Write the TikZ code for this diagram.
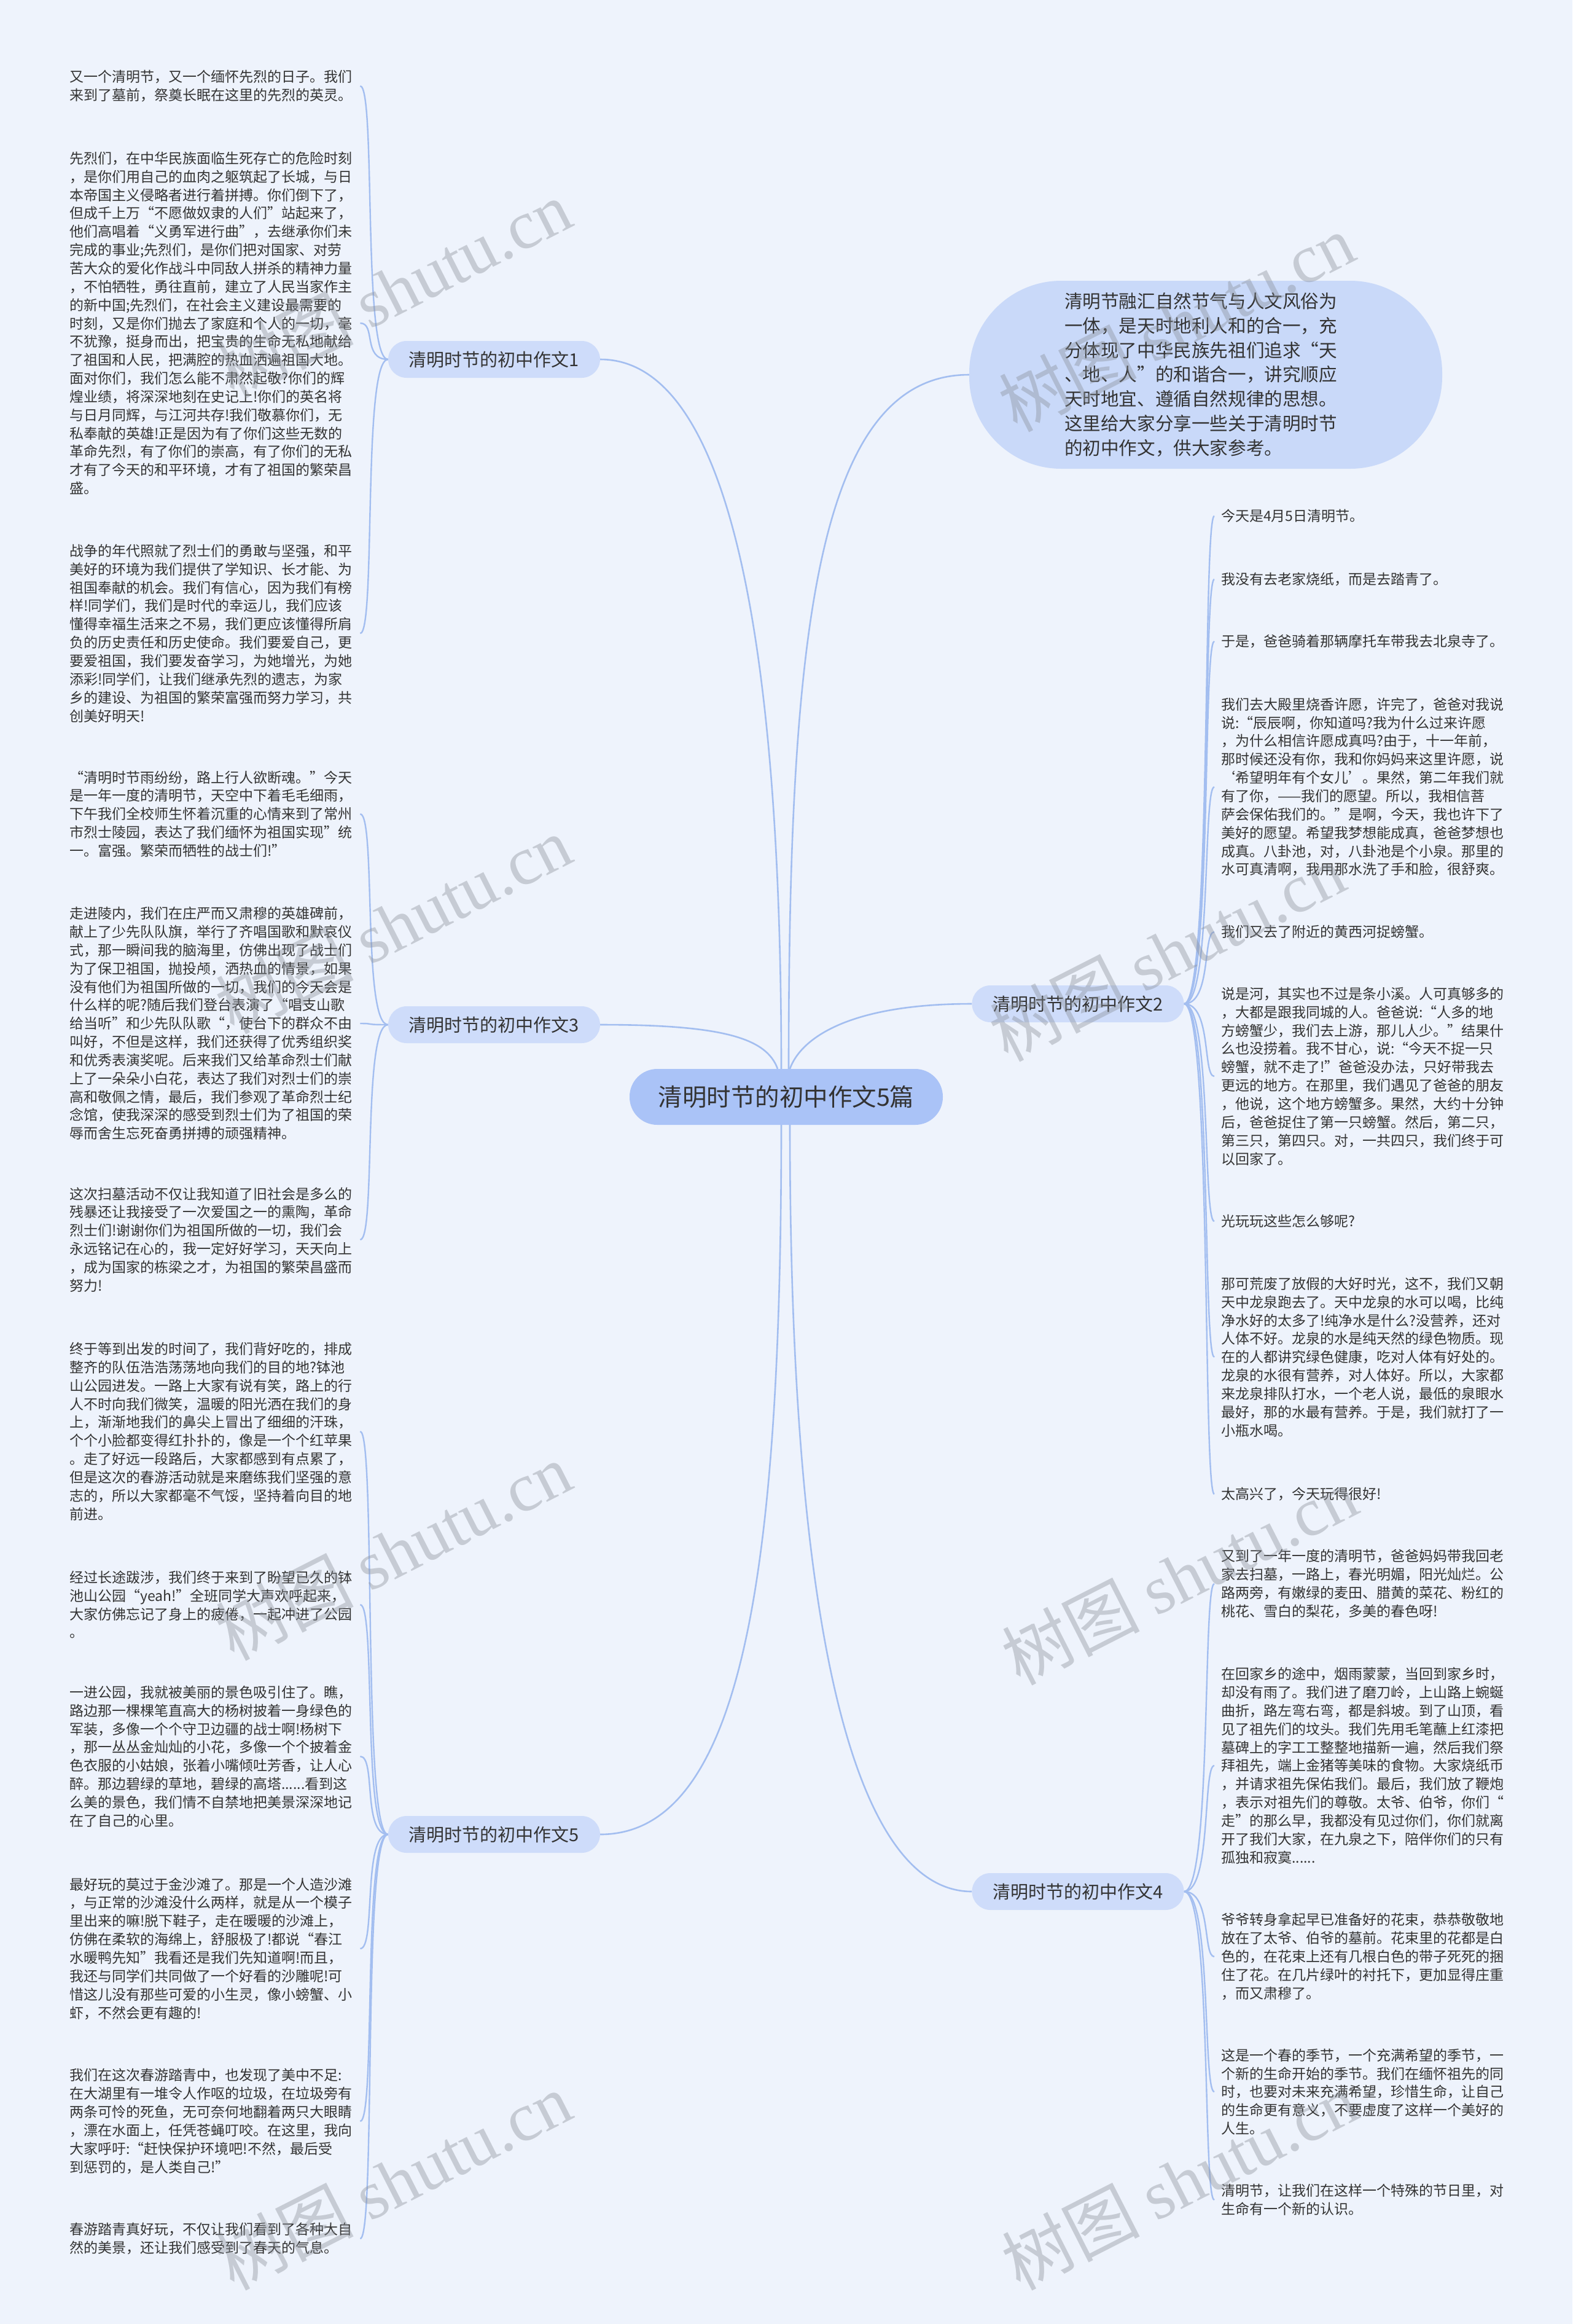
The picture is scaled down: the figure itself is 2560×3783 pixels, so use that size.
\documentclass[tikz,border=0pt]{standalone}
\usepackage{fontspec}
\setmainfont{Noto Sans CJK SC}
\newfontfamily\wmserif{Liberation Serif}
\definecolor{bgc}{HTML}{EEF3FC}
\definecolor{txt}{HTML}{333333}
\definecolor{ctfill}{HTML}{AAC3F7}
\definecolor{brfill}{HTML}{CEDCFA}
\definecolor{bubfill}{HTML}{C9D9F9}
\definecolor{lineblue}{HTML}{A3BEF0}
\definecolor{wmgray}{HTML}{8A9099}
\pgfdeclarelayer{back}
\pgfdeclarelayer{links}
\pgfdeclarelayer{front}
\pgfsetlayers{back,links,main,front}
\begin{document}
\begin{tikzpicture}[x=1pt,y=-1pt,
  leaf/.style={anchor=west, text width=462pt, align=left, inner xsep=11pt, inner ysep=0pt,
    font=\fontsize{23}{29.85}\selectfont, text=txt},
  branch/.style={fill=brfill, rounded corners=30pt, minimum width=345pt, minimum height=60pt,
    inner sep=0pt, font=\fontsize{29}{35}\selectfont, text=txt},
  centre/.style={fill=ctfill, rounded corners=45pt, minimum width=510pt, minimum height=91pt,
    inner sep=0pt, font=\fontsize{39.5}{45}\selectfont, text=txt},
  bubble/.style={fill=bubfill, rounded corners=150pt, minimum width=770pt, minimum height=306pt,
    inner sep=0pt, text width=460pt, align=left, font=\fontsize{29.6}{39.7}\selectfont, text=txt},
  mainline/.style={draw=lineblue, line width=2.6pt},
  leafline/.style={draw=lineblue, line width=2.4pt},
  wm/.style={rotate=27, text=wmgray, text opacity=0.4, inner sep=0pt,
    font=\fontsize{112}{112}\selectfont}
]
\useasboundingbox (0,0) rectangle (2560,3783);
\begin{pgfonlayer}{back}
  \fill[bgc] (0,0) rectangle (2560,3783);
\end{pgfonlayer}

% centre and branches
\node[centre] (c) at (1280,1785.5) {清明时节的初中作文5篇};
\node[branch] (n1) at (804.5,585) {清明时节的初中作文1};
\node[branch] (n3) at (804.5,1668) {清明时节的初中作文3};
\node[branch] (n5) at (804.5,2986) {清明时节的初中作文5};
\node[branch] (n2) at (1755,1634) {清明时节的初中作文2};
\node[branch] (n4) at (1755,3079) {清明时节的初中作文4};
\node[bubble] (bub) at (1963,610) {清明节融汇自然节气与人文风俗为\\一体，是天时地利人和的合一，充\\分体现了中华民族先祖们追求“天\\、地、人”的和谐合一，讲究顺应\\天时地宜、遵循自然规律的思想。\\这里给大家分享一些关于清明时节\\的初中作文，供大家参考。};

% left leaves
\node[leaf] (p1a) at (102,140) {又一个清明节，又一个缅怀先烈的日子。我们\\来到了墓前，祭奠长眠在这里的先烈的英灵。};
\node[leaf] (p1b) at (102,526) {先烈们，在中华民族面临生死存亡的危险时刻\\，是你们用自己的血肉之躯筑起了长城，与日\\本帝国主义侵略者进行着拼搏。你们倒下了，\\但成千上万“不愿做奴隶的人们”站起来了，\\他们高唱着“义勇军进行曲”，去继承你们未\\完成的事业;先烈们，是你们把对国家、对劳\\苦大众的爱化作战斗中同敌人拼杀的精神力量\\，不怕牺牲，勇往直前，建立了人民当家作主\\的新中国;先烈们，在社会主义建设最需要的\\时刻，又是你们抛去了家庭和个人的一切，毫\\不犹豫，挺身而出，把宝贵的生命无私地献给\\了祖国和人民，把满腔的热血洒遍祖国大地。\\面对你们，我们怎么能不肃然起敬?你们的辉\\煌业绩，将深深地刻在史记上!你们的英名将\\与日月同辉，与江河共存!我们敬慕你们，无\\私奉献的英雄!正是因为有了你们这些无数的\\革命先烈，有了你们的崇高，有了你们的无私\\才有了今天的和平环境，才有了祖国的繁荣昌\\盛。};
\node[leaf] (p1c) at (102,1031) {战争的年代照就了烈士们的勇敢与坚强，和平\\美好的环境为我们提供了学知识、长才能、为\\祖国奉献的机会。我们有信心，因为我们有榜\\样!同学们，我们是时代的幸运儿，我们应该\\懂得幸福生活来之不易，我们更应该懂得所肩\\负的历史责任和历史使命。我们要爱自己，更\\要爱祖国，我们要发奋学习，为她增光，为她\\添彩!同学们，让我们继承先烈的遗志，为家\\乡的建设、为祖国的繁荣富强而努力学习，共\\创美好明天!};
\node[leaf] (p3a) at (102,1325) {“清明时节雨纷纷，路上行人欲断魂。"今天\\是一年一度的清明节，天空中下着毛毛细雨，\\下午我们全校师生怀着沉重的心情来到了常州\\市烈士陵园，表达了我们缅怀为祖国实现”统\\一。富强。繁荣而牺牲的战士们!”};
\node[leaf] (p3b) at (102,1666) {走进陵内，我们在庄严而又肃穆的英雄碑前，\\献上了少先队队旗，举行了齐唱国歌和默哀仪\\式，那一瞬间我的脑海里，仿佛出现了战士们\\为了保卫祖国，抛投颅，洒热血的情景，如果\\没有他们为祖国所做的一切，我们的今天会是\\什么样的呢?随后我们登台表演了“唱支山歌\\给当听”和少先队队歌“，使台下的群众不由\\叫好，不但是这样，我们还获得了优秀组织奖\\和优秀表演奖呢。后来我们又给革命烈士们献\\上了一朵朵小白花，表达了我们对烈士们的崇\\高和敬佩之情，最后，我们参观了革命烈士纪\\念馆，使我深深的感受到烈士们为了祖国的荣\\辱而舍生忘死奋勇拼搏的顽强精神。};
\node[leaf] (p3c) at (102,2018) {这次扫墓活动不仅让我知道了旧社会是多么的\\残暴还让我接受了一次爱国之一的熏陶，革命\\烈士们!谢谢你们为祖国所做的一切，我们会\\永远铭记在心的，我一定好好学习，天天向上\\，成为国家的栋梁之才，为祖国的繁荣昌盛而\\努力!};
\node[leaf] (p5a) at (102,2330) {终于等到出发的时间了，我们背好吃的，排成\\整齐的队伍浩浩荡荡地向我们的目的地?钵池\\山公园进发。一路上大家有说有笑，路上的行\\人不时向我们微笑，温暖的阳光洒在我们的身\\上，渐渐地我们的鼻尖上冒出了细细的汗珠，\\个个小脸都变得红扑扑的，像是一个个红苹果\\。走了好远一段路后，大家都感到有点累了，\\但是这次的春游活动就是来磨练我们坚强的意\\志的，所以大家都毫不气馁，坚持着向目的地\\前进。};
\node[leaf] (p5b) at (102,2612) {经过长途跋涉，我们终于来到了盼望已久的钵\\池山公园“yeah!”全班同学大声欢呼起来，\\大家仿佛忘记了身上的疲倦，一起冲进了公园\\。};
\node[leaf] (p5c) at (102,2859) {一进公园，我就被美丽的景色吸引住了。瞧，\\路边那一棵棵笔直高大的杨树披着一身绿色的\\军装，多像一个个守卫边疆的战士啊!杨树下\\，那一丛丛金灿灿的小花，多像一个个披着金\\色衣服的小姑娘，张着小嘴倾吐芳香，让人心\\醉。那边碧绿的草地，碧绿的高塔......看到这\\么美的景色，我们情不自禁地把美景深深地记\\在了自己的心里。};
\node[leaf] (p5d) at (102,3172) {最好玩的莫过于金沙滩了。那是一个人造沙滩\\，与正常的沙滩没什么两样，就是从一个模子\\里出来的嘛!脱下鞋子，走在暖暖的沙滩上，\\仿佛在柔软的海绵上，舒服极了!都说“春江\\水暖鸭先知”我看还是我们先知道啊!而且，\\我还与同学们共同做了一个好看的沙雕呢!可\\惜这儿没有那些可爱的小生灵，像小螃蟹、小\\虾，不然会更有趣的!};
\node[leaf] (p5e) at (102,3453) {我们在这次春游踏青中，也发现了美中不足:\\在大湖里有一堆令人作呕的垃圾，在垃圾旁有\\两条可怜的死鱼，无可奈何地翻着两只大眼睛\\，漂在水面上，任凭苍蝇叮咬。在这里，我向\\大家呼吁:“赶快保护环境吧!不然，最后受\\到惩罚的，是人类自己!”};
\node[leaf] (p5f) at (102,3644) {春游踏青真好玩，不仅让我们看到了各种大自\\然的美景，还让我们感受到了春天的气息。};

% right leaves
\node[leaf] (r2a) at (1977,840) {今天是4月5日清明节。};
\node[leaf] (r2b) at (1977,943) {我没有去老家烧纸，而是去踏青了。};
\node[leaf] (r2c) at (1977,1044) {于是，爸爸骑着那辆摩托车带我去北泉寺了。};
\node[leaf] (r2d) at (1977,1281) {我们去大殿里烧香许愿，许完了，爸爸对我说\\说:“辰辰啊，你知道吗?我为什么过来许愿\\，为什么相信许愿成真吗?由于，十一年前，\\那时候还没有你，我和你妈妈来这里许愿，说\\‘希望明年有个女儿’。果然，第二年我们就\\有了你，——我们的愿望。所以，我相信菩\\萨会保佑我们的。”是啊，今天，我也许下了\\美好的愿望。希望我梦想能成真，爸爸梦想也\\成真。八卦池，对，八卦池是个小泉。那里的\\水可真清啊，我用那水洗了手和脸，很舒爽。};
\node[leaf] (r2e) at (1977,1517) {我们又去了附近的黄西河捉螃蟹。};
\node[leaf] (r2f) at (1977,1752) {说是河，其实也不过是条小溪。人可真够多的\\，大都是跟我同城的人。爸爸说:“人多的地\\方螃蟹少，我们去上游，那儿人少。”结果什\\么也没捞着。我不甘心，说:“今天不捉一只\\螃蟹，就不走了!”爸爸没办法，只好带我去\\更远的地方。在那里，我们遇见了爸爸的朋友\\，他说，这个地方螃蟹多。果然，大约十分钟\\后，爸爸捉住了第一只螃蟹。然后，第二只，\\第三只，第四只。对，一共四只，我们终于可\\以回家了。};
\node[leaf] (r2g) at (1977,1988) {光玩玩这些怎么够呢?};
\node[leaf] (r2h) at (1977,2209) {那可荒废了放假的大好时光，这不，我们又朝\\天中龙泉跑去了。天中龙泉的水可以喝，比纯\\净水好的太多了!纯净水是什么?没营养，还对\\人体不好。龙泉的水是纯天然的绿色物质。现\\在的人都讲究绿色健康，吃对人体有好处的。\\龙泉的水很有营养，对人体好。所以，大家都\\来龙泉排队打水，一个老人说，最低的泉眼水\\最好，那的水最有营养。于是，我们就打了一\\小瓶水喝。};
\node[leaf] (r2i) at (1977,2432) {太高兴了，今天玩得很好!};
\node[leaf] (r4a) at (1977,2578) {又到了一年一度的清明节，爸爸妈妈带我回老\\家去扫墓，一路上，春光明媚，阳光灿烂。公\\路两旁，有嫩绿的麦田、腊黄的菜花、粉红的\\桃花、雪白的梨花，多美的春色呀!};
\node[leaf] (r4b) at (1977,2874) {在回家乡的途中，烟雨蒙蒙，当回到家乡时，\\却没有雨了。我们进了磨刀岭，上山路上蜿蜒\\曲折，路左弯右弯，都是斜坡。到了山顶，看\\见了祖先们的坟头。我们先用毛笔蘸上红漆把\\墓碑上的字工工整整地描新一遍，然后我们祭\\拜祖先，端上金猪等美味的食物。大家烧纸币\\，并请求祖先保佑我们。最后，我们放了鞭炮\\，表示对祖先们的尊敬。太爷、伯爷，你们“\\走”的那么早，我都没有见过你们，你们就离\\开了我们大家，在九泉之下，陪伴你们的只有\\孤独和寂寞......};
\node[leaf] (r4c) at (1977,3185) {爷爷转身拿起早已准备好的花束，恭恭敬敬地\\放在了太爷、伯爷的墓前。花束里的花都是白\\色的，在花束上还有几根白色的带子死死的捆\\住了花。在几片绿叶的衬托下，更加显得庄重\\，而又肃穆了。};
\node[leaf] (r4d) at (1977,3405) {这是一个春的季节，一个充满希望的季节，一\\个新的生命开始的季节。我们在缅怀祖先的同\\时，也要对未来充满希望，珍惜生命，让自己\\的生命更有意义，不要虚度了这样一个美好的\\人生。};
\node[leaf] (r4e) at (1977,3581) {清明节，让我们在这样一个特殊的节日里，对\\生命有一个新的认识。};

% connectors
\begin{pgfonlayer}{links}
  \draw[mainline] ([xshift=-8pt]c.north) .. controls +(0,-640) and +(223,0) .. (n1.east);
  \draw[mainline] ([xshift=-14pt]c.north) .. controls +(-18,-50) and +(200,0) .. (n3.east);
  \draw[mainline] ([xshift=-8pt]c.south) .. controls +(0,720) and +(233,0) .. (n5.east);
  \draw[mainline] ([xshift=4pt]c.north) .. controls +(0,-700) and +(-250,0) .. (bub.west);
  \draw[mainline] ([xshift=6pt]c.north) .. controls +(18,-50) and +(-200,0) .. (n2.west);
  \draw[mainline] ([xshift=6pt]c.south) .. controls +(0,870) and +(-180,0) .. (n4.west);
  \foreach \p in {p1a,p1b,p1c}
    \draw[leafline] (n1.west) .. controls +(-42,0) and +(26,0) .. (\p.east);
  \foreach \p in {p3a,p3b,p3c}
    \draw[leafline] (n3.west) .. controls +(-42,0) and +(26,0) .. (\p.east);
  \foreach \p in {p5a,p5b,p5c,p5d,p5e,p5f}
    \draw[leafline] (n5.west) .. controls +(-42,0) and +(26,0) .. (\p.east);
  \foreach \p in {r2a,r2b,r2c,r2d,r2e,r2f,r2g,r2h,r2i}
    \draw[leafline] (n2.east) .. controls +(45,0) and +(-19,0) .. (\p.west);
  \foreach \p in {r4a,r4b,r4c,r4d,r4e}
    \draw[leafline] (n4.east) .. controls +(45,0) and +(-19,0) .. (\p.west);
\end{pgfonlayer}

% watermarks
\begin{pgfonlayer}{front}
  \node[wm] (w1) at (640,470) {树图 {\wmserif shutu.cn}};
  \node[wm] (w2) at (1915,525) {树图 {\wmserif shutu.cn}};
  \node[wm] (w3) at (640,1505) {树图 {\wmserif shutu.cn}};
  \node[wm] (w4) at (1900,1550) {树图 {\wmserif shutu.cn}};
  \node[wm] (w5) at (640,2525) {树图 {\wmserif shutu.cn}};
  \node[wm] (w6) at (1920,2565) {树图 {\wmserif shutu.cn}};
  \node[wm] (w7) at (640,3550) {树图 {\wmserif shutu.cn}};
  \node[wm] (w8) at (1920,3550) {树图 {\wmserif shutu.cn}};
\end{pgfonlayer}
\end{tikzpicture}
\end{document}
